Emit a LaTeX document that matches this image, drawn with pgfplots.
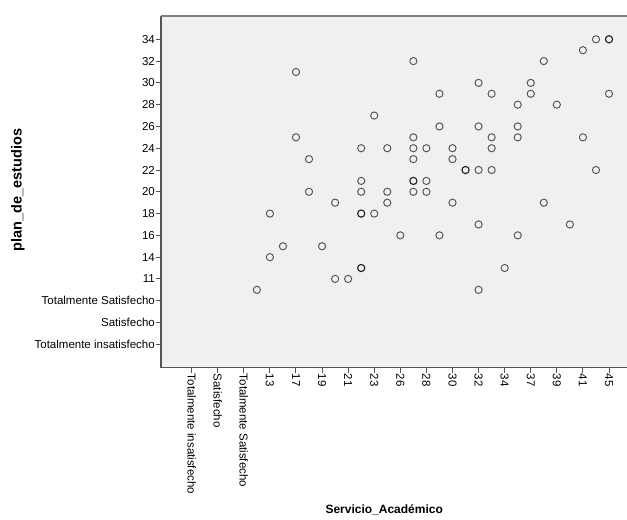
\documentclass[border=0pt]{standalone}
\usepackage{fontspec}
\setmainfont{Liberation Sans}
\usepackage{pgfplots}
\pgfplotsset{compat=1.18}
\definecolor{bg}{HTML}{F0F0F0}
\definecolor{frame}{HTML}{555555}
\begin{document}
\begin{tikzpicture}
\path[use as bounding box] (0,0) rectangle (627bp,520bp);
\begin{axis}[
  at={(161bp,152.3bp)}, anchor=south west,
  scale only axis, width=466bp, height=351.7bp,
  xmin=-2.35, xmax=33.38, ymin=-2.15, ymax=30.14,
  axis background/.style={fill=bg},
  axis lines*=left,
  axis line style={frame, line width=1.3bp, -},
  tick align=outside, major tick length=5bp,
  tick style={frame, line width=1bp},
  /pgf/number format/assume math mode=true,
  ticklabel style={font=\fontsize{11.5bp}{13bp}\selectfont, inner sep=1bp},
  xtick={0,2,...,32},
  xticklabels={Totalmente insatisfecho, Satisfecho, Totalmente Satisfecho, 13, 17, 19, 21, 23, 26, 28, 30, 32, 34, 37, 39, 41, 45},
  x tick label style={rotate=-90, anchor=west},
  ytick={0,2,...,28},
  yticklabels={Totalmente insatisfecho, Satisfecho, Totalmente Satisfecho, 11, 14, 16, 18, 20, 22, 24, 26, 28, 30, 32, 34},
  y tick label style={anchor=east},
  xlabel={Servicio\_Académico},
  ylabel={plan\_de\_estudios},
  xlabel style={font=\fontsize{12bp}{14bp}\selectfont\bfseries, at={(axis description cs:0.479,-0.4046)}, anchor=center},
  ylabel style={font=\fontsize{14.5bp}{16bp}\selectfont\bfseries, at={(axis description cs:-0.3069,0.505)}, anchor=center, rotate=0},
]
\addplot[only marks, mark=o, mark size=3.6bp,
  mark options={draw=black, draw opacity=0.65, line width=0.95bp, fill=none}]
  table {
x y
31 28
32 28
32 28
30 27
17 26
27 26
8 25
22 24
26 24
19 23
23 23
26 23
32 23
25 22
28 22
14 21
19 20
22 20
25 20
8 19
17 19
23 19
25 19
30 19
13 18
15 18
17 18
18 18
20 18
23 18
9 17
17 17
20 17
21 16
21 16
22 16
23 16
31 16
13 15
17 15
17 15
18 15
9 14
13 14
15 14
17 14
18 14
11 13
15 13
20 13
27 13
6 12
13 12
13 12
14 12
22 11
29 11
16 10
19 10
25 10
7 9
10 9
6 8
13 7
13 7
24 7
11 6
12 6
5 5
22 5
};
\draw[color=gray, line width=1.3bp] (rel axis cs:0,1) -- (rel axis cs:1,1);
\end{axis}
\end{tikzpicture}
\end{document}
